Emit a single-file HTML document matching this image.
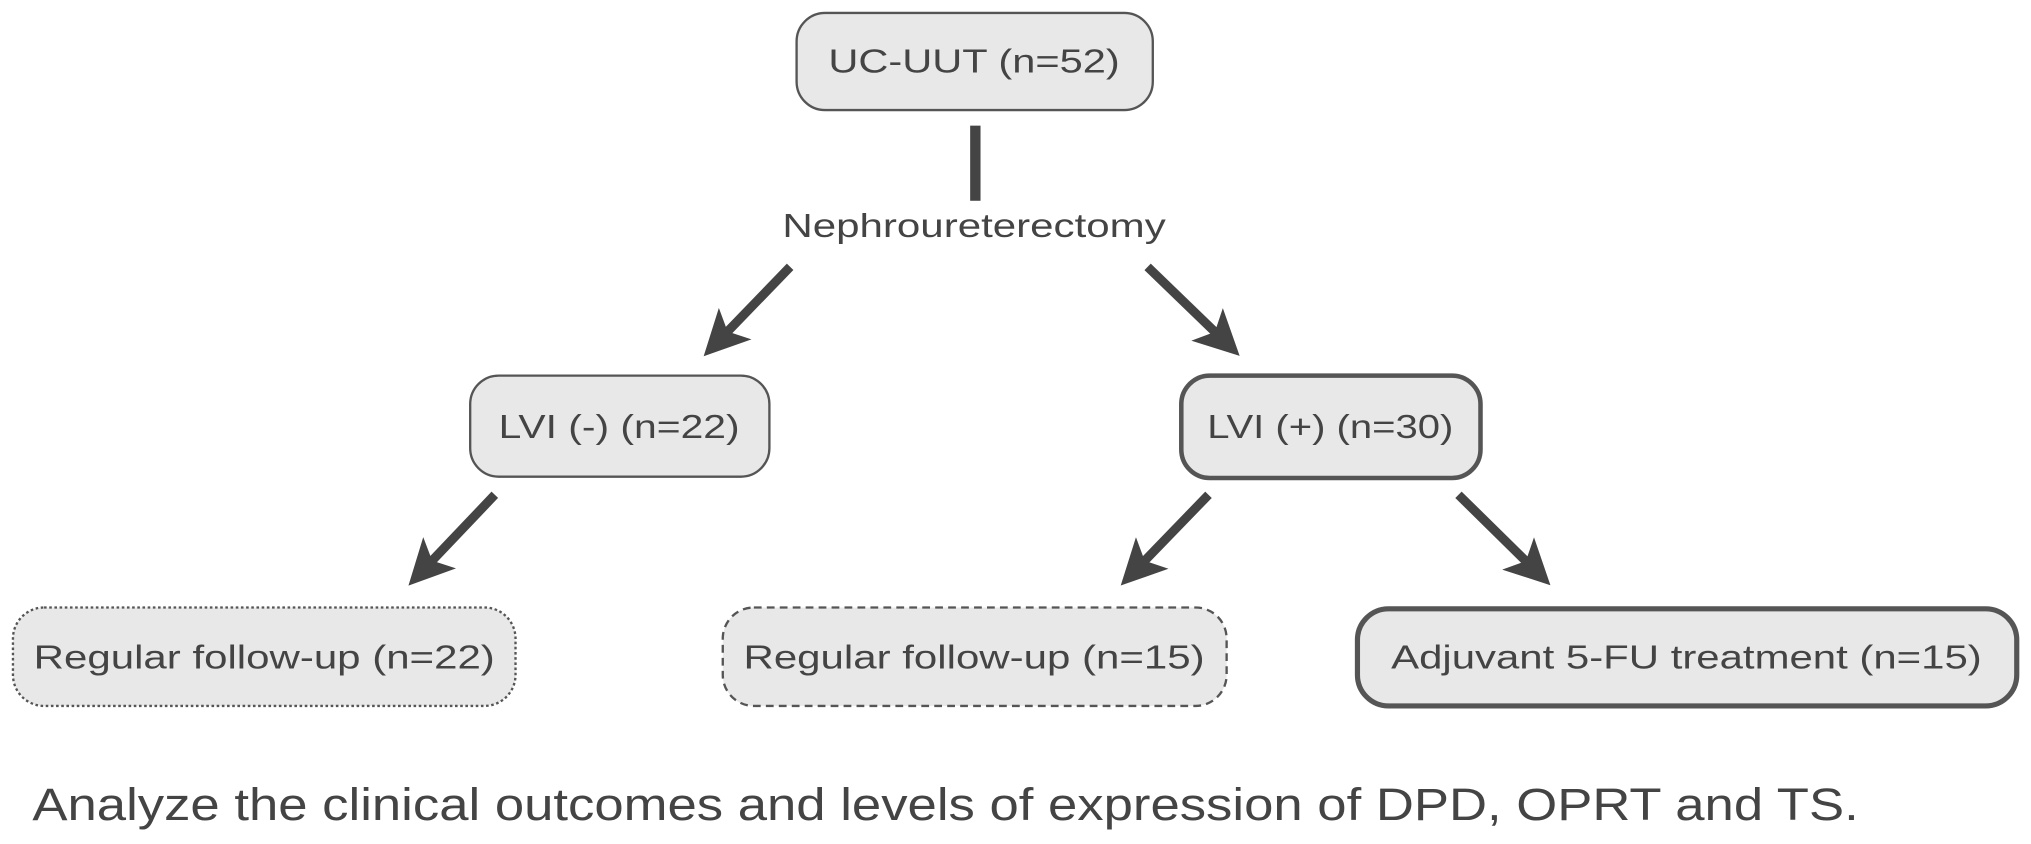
<!DOCTYPE html>
<html><head><meta charset="utf-8"><style>html,body{margin:0;padding:0;background:#fff}svg{display:block}</style></head>
<body>
<svg width="2031" height="844" viewBox="0 0 1568 651.6" xmlns="http://www.w3.org/2000/svg" font-family="Liberation Sans, sans-serif" fill="#444">
<defs>
<marker id="ah" markerWidth="5" markerHeight="5" refX="3.2" refY="2.5" orient="auto" markerUnits="strokeWidth">
<path d="M0,0 L5,2.5 L0,5 L1.2,2.5 z" fill="#444"/>
</marker>
</defs>
<g fill="#e8e8e8" stroke="#555">
<rect x="615" y="10" width="275" height="75" rx="22" stroke-width="1.8"/>
<rect x="363" y="290" width="231" height="78" rx="22" stroke-width="1.8"/>
<rect x="912" y="290" width="231" height="79" rx="22" stroke-width="3.5"/>
<rect x="10" y="469" width="388" height="76" rx="24" stroke-width="1.8" stroke-dasharray="2,2"/>
<rect x="558" y="469" width="389" height="76" rx="24" stroke-width="1.8" stroke-dasharray="6,4"/>
<rect x="1048" y="470" width="509" height="75" rx="24" stroke-width="4"/>
</g>
<rect x="749" y="97" width="8" height="58" fill="#444"/>
<g stroke="#444" stroke-width="7" fill="none" marker-end="url(#ah)">
<line x1="610" y1="206" x2="552" y2="266"/>
<line x1="886" y1="206" x2="948" y2="266"/>
<line x1="382" y1="382" x2="324" y2="443"/>
<line x1="933" y1="382" x2="874" y2="443"/>
<line x1="1126" y1="382" x2="1188" y2="443"/>
</g>
<g font-size="26" text-anchor="middle">
<text x="752" y="56" textLength="225" lengthAdjust="spacingAndGlyphs">UC-UUT (n=52)</text>
<text x="752" y="183" textLength="296" lengthAdjust="spacingAndGlyphs">Nephroureterectomy</text>
<text x="478" y="338" textLength="186" lengthAdjust="spacingAndGlyphs">LVI (-) (n=22)</text>
<text x="1027" y="338" textLength="190" lengthAdjust="spacingAndGlyphs">LVI (+) (n=30)</text>
<text x="204" y="516" textLength="356" lengthAdjust="spacingAndGlyphs">Regular follow-up (n=22)</text>
<text x="752" y="516" textLength="356" lengthAdjust="spacingAndGlyphs">Regular follow-up (n=15)</text>
<text x="1302" y="516" textLength="456" lengthAdjust="spacingAndGlyphs">Adjuvant 5-FU treatment (n=15)</text>
</g>
<text x="25" y="633" font-size="35" textLength="1410" lengthAdjust="spacingAndGlyphs">Analyze the clinical outcomes and levels of expression of DPD, OPRT and TS.</text>
</svg>
</body></html>
